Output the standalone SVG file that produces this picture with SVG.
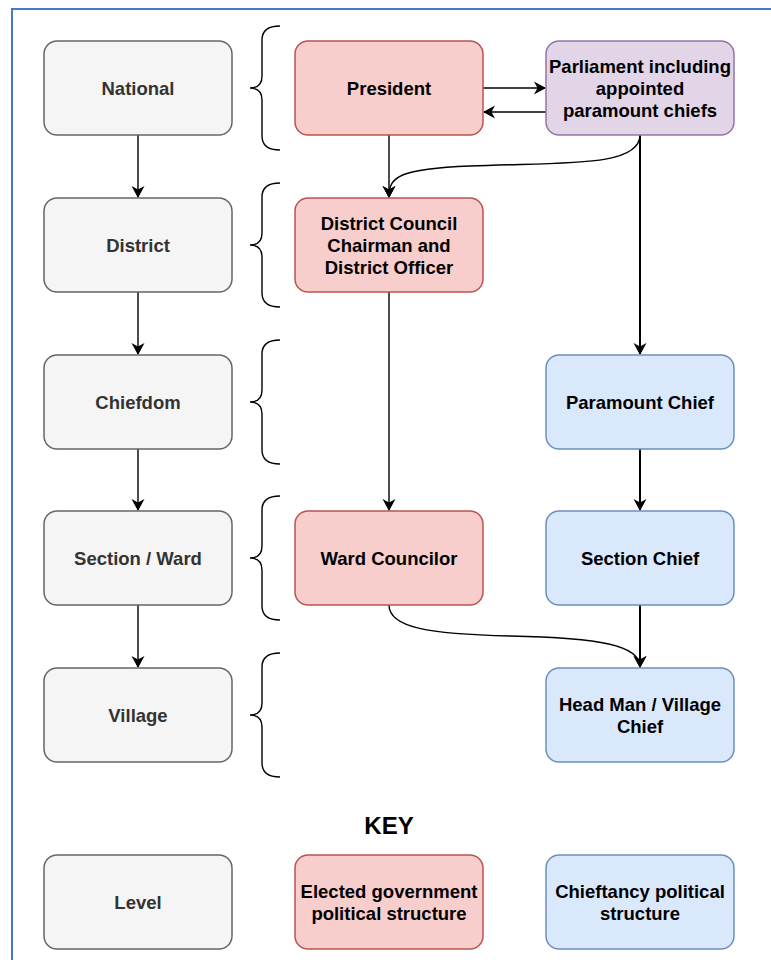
<svg xmlns="http://www.w3.org/2000/svg" width="771" height="960" viewBox="0 0 771 960">
<defs>
<style>
.lvl{fill:#f5f5f5;stroke:#666666;stroke-width:1.5}
.red{fill:#f8cecc;stroke:#b85450;stroke-width:1.5}
.pur{fill:#e1d5e7;stroke:#9673a6;stroke-width:1.5}
.blu{fill:#dae8fc;stroke:#6c8ebf;stroke-width:1.5}
text{font-family:"Liberation Sans",Arial,sans-serif;font-weight:bold;font-size:18.5px;text-anchor:middle;dominant-baseline:central;fill:#000}
.lt{fill:#333333}
.edge{fill:none;stroke:#000;stroke-width:1.4}
.thick{stroke-width:2}
.brace{fill:none;stroke:#000;stroke-width:1.4}
</style>
<marker id="arr" markerUnits="userSpaceOnUse" markerWidth="14" markerHeight="14" refX="11" refY="7" orient="auto" viewBox="0 0 14 14">
<path d="M0,0.5 L12,7 L0,13.5 L3.5,7 Z" fill="#000"/>
</marker>
</defs>
<rect x="12" y="9" width="800" height="1000" fill="none" stroke="#4a78cc" stroke-width="2"/>

<g id="braces">
<path class="brace" d="M280,26 Q262,26 262,40 L262,76 Q262,88 250,88 Q262,88 262,100 L262,136 Q262,150 280,150"/>
<path class="brace" d="M280,183 Q262,183 262,197 L262,233 Q262,245 250,245 Q262,245 262,257 L262,293 Q262,307 280,307"/>
<path class="brace" d="M280,340 Q262,340 262,354 L262,390 Q262,402 250,402 Q262,402 262,414 L262,450 Q262,464 280,464"/>
<path class="brace" d="M280,496 Q262,496 262,510 L262,546 Q262,558 250,558 Q262,558 262,570 L262,606 Q262,620 280,620"/>
<path class="brace" d="M280,653 Q262,653 262,667 L262,703 Q262,715 250,715 Q262,715 262,727 L262,763 Q262,777 280,777"/>
</g>

<g id="connectors">
<path class="edge" d="M138,135 L138,197" marker-end="url(#arr)"/>
<path class="edge" d="M138,292 L138,354" marker-end="url(#arr)"/>
<path class="edge" d="M138,449 L138,510" marker-end="url(#arr)"/>
<path class="edge" d="M138,605 L138,667" marker-end="url(#arr)"/>
<path class="edge" d="M483,88 L545,88" marker-end="url(#arr)"/>
<path class="edge" d="M546,112 L484,112" marker-end="url(#arr)"/>
<path class="edge" d="M389,135 L389,197" marker-end="url(#arr)"/>
<path class="edge" d="M640,135 C640,168 560,162 470,166 C400,169 389,176 389,197" marker-end="url(#arr)"/>
<path class="edge thick" d="M640,135 L640,354" marker-end="url(#arr)"/>
<path class="edge" d="M389,292 L389,510" marker-end="url(#arr)"/>
<path class="edge thick" d="M640,449 L640,510" marker-end="url(#arr)"/>
<path class="edge thick" d="M640,605 L640,667" marker-end="url(#arr)"/>
<path class="edge" d="M389,605 C389,628 430,634 510,636 C600,638 640,645 640,667" marker-end="url(#arr)"/>
</g>

<g id="national"><rect class="lvl" x="44" y="41" width="188" height="94" rx="13"/><text class="lt" x="138" y="88">National</text></g>
<g id="district"><rect class="lvl" x="44" y="198" width="188" height="94" rx="13"/><text class="lt" x="138" y="245">District</text></g>
<g id="chiefdom"><rect class="lvl" x="44" y="355" width="188" height="94" rx="13"/><text class="lt" x="138" y="402">Chiefdom</text></g>
<g id="section-ward"><rect class="lvl" x="44" y="511" width="188" height="94" rx="13"/><text class="lt" x="138" y="558">Section / Ward</text></g>
<g id="village"><rect class="lvl" x="44" y="668" width="188" height="94" rx="13"/><text class="lt" x="138" y="715">Village</text></g>

<g id="president"><rect class="red" x="295" y="41" width="188" height="94" rx="13"/><text x="389" y="88">President</text></g>
<g id="parliament"><rect class="pur" x="546" y="41" width="188" height="94" rx="13"/><text x="640" y="66">Parliament including</text><text x="640" y="88">appointed</text><text x="640" y="110">paramount chiefs</text></g>
<g id="district-council"><rect class="red" x="295" y="198" width="188" height="94" rx="13"/><text x="389" y="223">District Council</text><text x="389" y="245">Chairman and</text><text x="389" y="267">District Officer</text></g>
<g id="paramount-chief"><rect class="blu" x="546" y="355" width="188" height="94" rx="13"/><text x="640" y="402">Paramount Chief</text></g>
<g id="ward-councilor"><rect class="red" x="295" y="511" width="188" height="94" rx="13"/><text x="389" y="558">Ward Councilor</text></g>
<g id="section-chief"><rect class="blu" x="546" y="511" width="188" height="94" rx="13"/><text x="640" y="558">Section Chief</text></g>
<g id="head-man"><rect class="blu" x="546" y="668" width="188" height="94" rx="13"/><text x="640" y="704">Head Man / Village</text><text x="640" y="726">Chief</text></g>

<g id="key-title"><text x="389" y="825" style="font-size:24px">KEY</text></g>
<g id="key-level"><rect class="lvl" x="44" y="855" width="188" height="94" rx="13"/><text class="lt" x="138" y="902">Level</text></g>
<g id="key-elected"><rect class="red" x="295" y="855" width="188" height="94" rx="13"/><text x="389" y="891">Elected government</text><text x="389" y="913">political structure</text></g>
<g id="key-chieftancy"><rect class="blu" x="546" y="855" width="188" height="94" rx="13"/><text x="640" y="891">Chieftancy political</text><text x="640" y="913">structure</text></g>
</svg>
